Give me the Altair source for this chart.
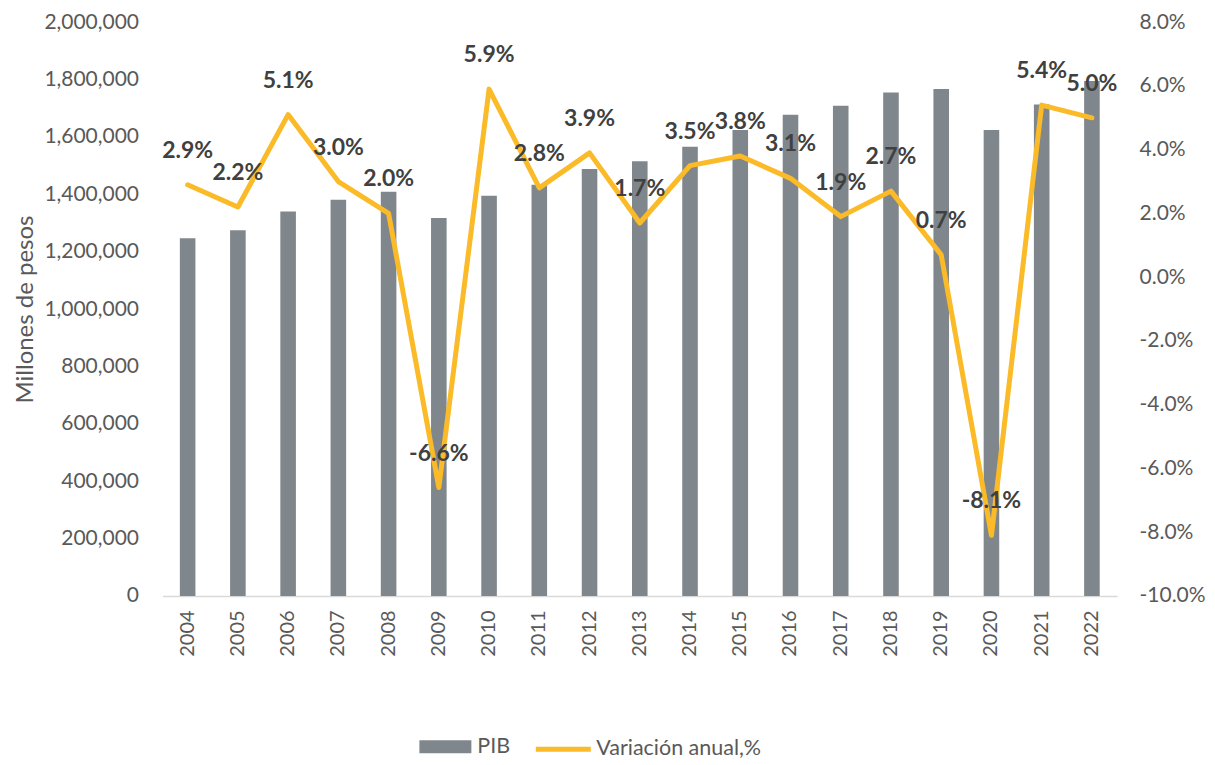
import altair as alt
import pandas as pd

years = [str(y) for y in range(2004, 2023)]
pib = [1247000, 1275000, 1340000, 1381000, 1409000, 1317000, 1395000, 1433000,
       1488000, 1515000, 1566000, 1624000, 1677000, 1709000, 1755000, 1767000,
       1624000, 1713000, 1795000]
variacion = [2.9, 2.2, 5.1, 3.0, 2.0, -6.6, 5.9, 2.8, 3.9, 1.7, 3.5, 3.8, 3.1,
             1.9, 2.7, 0.7, -8.1, 5.4, 5.0]
serie_bar = "PIB"
serie_line = "Variación anual,%"
left_ticks = [0, 200000, 400000, 600000, 800000, 1000000, 1200000, 1400000,
              1600000, 1800000, 2000000]
right_ticks = [-0.10, -0.08, -0.06, -0.04, -0.02, 0.0, 0.02, 0.04, 0.06, 0.08]

df = pd.DataFrame({
    "year": years,
    "pib": pib,
    "var": [v / 100 for v in variacion],
    "label": [f"{v:.1f}%" for v in variacion],
    "s_bar": serie_bar,
    "s_line": serie_line,
})

FONT = "Lato"
TXT = "#595959"
BAR = "#7F878C"
LINE = "#FBBA27"

x = alt.X("year:N", title=None, sort=years,
          scale=alt.Scale(paddingInner=0.69, paddingOuter=0.345),
          axis=alt.Axis(labelAngle=270, labelFontSize=20, labelColor=TXT,
                        labelPadding=14, ticks=False, domainColor="#D9D9D9",
                        domainWidth=1.5, labelFont=FONT))

bars = alt.Chart(df).mark_bar().encode(
    x=x,
    y=alt.Y("pib:Q", scale=alt.Scale(domain=[0, 2000000], nice=False),
            axis=alt.Axis(format=",.0f", values=left_ticks, title="Millones de pesos",
                          titleFontSize=24, titleFontWeight="normal", titleColor=TXT,
                          titleFont=FONT, titlePadding=6, labelPadding=24,
                          labelFontSize=21, labelColor=TXT, labelFont=FONT,
                          ticks=False, domain=False, grid=False)),
    color=alt.Color("s_bar:N", scale=alt.Scale(domain=[serie_bar], range=[BAR]),
                    legend=alt.Legend(title=None, orient="none", legendX=257, legendY=699,
                                      symbolType="M-1,-0.25H1V0.25H-1Z", symbolSize=2704,
                                      symbolStrokeWidth=0, symbolOpacity=1,
                                      labelFontSize=21.5, labelColor=TXT, labelFont=FONT,
                                      labelOffset=6, labelLimit=300, padding=0)),
)

right_axis = alt.Axis(orient="right", values=right_ticks,
                      labelExpr="replace(format(datum.value, '.1%'), '\u2212', '-')",
                      labelFontSize=21, labelColor=TXT, labelFont=FONT,
                      labelPadding=22, labelAlign="left", ticks=False,
                      domain=False, grid=False, title=None)

yv = alt.Y("var:Q", scale=alt.Scale(domain=[-0.10, 0.08], nice=False), axis=right_axis)

line = alt.Chart(df).mark_line(strokeWidth=5, strokeJoin="round", strokeCap="round").encode(
    x=x,
    y=yv,
    stroke=alt.Stroke("s_line:N", scale=alt.Scale(domain=[serie_line], range=[LINE]),
                      legend=alt.Legend(title=None, orient="none", legendX=371, legendY=697.5,
                                        symbolType="stroke", symbolSize=3025,
                                        symbolStrokeWidth=5,
                                        labelFontSize=21.5, labelColor=TXT, labelFont=FONT,
                                        labelOffset=3, labelLimit=300, padding=0)),
)

labels = alt.Chart(df).mark_text(fontWeight="bold", fontSize=23, color="#404040",
                                 dy=-34, font=FONT).encode(
    x=x,
    y=yv,
    text=alt.Text("label:N"),
)

chart = alt.layer(bars, alt.layer(line, labels)).resolve_scale(
    y="independent", color="independent"
).properties(
    width=955, height=574,
    autosize=alt.AutoSizeParams(type="none"),
    padding={"left": 154.6, "top": 14, "right": 90, "bottom": 166},
    background="white",
).configure_view(stroke=None)

chart.save("out.html", embed_options={"renderer": "svg", "actions": False})
